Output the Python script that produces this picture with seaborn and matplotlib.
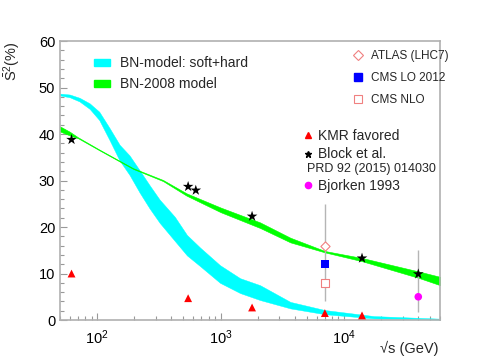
"""Survival probability S^2 vs sqrt(s): BN model bands with data points."""
import matplotlib

matplotlib.use("Agg")
import matplotlib.pyplot as plt
import numpy as np
import seaborn as sns
from matplotlib.lines import Line2D
from matplotlib.patches import Patch
from matplotlib.ticker import (LogFormatterMathtext, LogLocator,
                               MultipleLocator, NullFormatter)

# BN-model: soft+hard band, upper and lower edges
CYAN_E = [50, 60, 72, 87, 104, 126, 152, 183, 221, 266, 321, 426, 534, 682,
          990, 1440, 2090, 3680, 7000, 17500, 60000]
CYAN_HI = [48.7, 48.5, 47.8, 46.6, 44.8, 41.3, 37.7, 35.4, 32.2, 29.0, 25.9,
           22.2, 18.3, 15.6, 11.8, 9.0, 7.5, 3.9, 2.15, 0.85, 0.3]
CYAN_LO = [48.3, 47.9, 47.0, 45.4, 43.0, 38.7, 34.3, 31.2, 27.4, 24.0, 20.9,
           17.0, 13.9, 11.6, 8.0, 5.8, 4.3, 2.5, 1.25, 0.35, 0.1]

# BN-2008 model band
GREEN_E = [50, 60, 70, 104, 195, 342, 530, 1000, 2090, 3680, 7000, 14000, 41000, 60000]
GREEN_HI = [41.65, 40.5, 39.3, 36.68, 32.68, 30.12, 27.25, 24.2, 21.0, 17.7, 14.85, 13.35, 10.4, 9.3]
GREEN_LO = [40.55, 39.7, 39.1, 36.52, 32.52, 29.88, 26.75, 23.2, 19.8, 16.7, 14.55, 12.65, 9.0, 7.5]

# points
KMR_E = [62, 546, 1800, 7000, 14000]
KMR_S = [10.0, 4.7, 2.7, 1.5, 1.0]
BLOCK_E = [62, 546, 630, 1800, 14000, 40000]
BLOCK_S = [38.8, 28.7, 27.9, 22.3, 13.3, 9.9]
ATLAS_E, ATLAS_S = [7000], [16.0]
CMS_LO_E, CMS_LO_S = [7000], [12.0]
CMS_NLO_E, CMS_NLO_S = [7000], [8.0]
BJ_E, BJ_S = [40000], [5.0]
ERR_E = [7000, 40000]
ERR_LO = [4.0, 1.7]
ERR_HI = [24.9, 15.0]

sns.set_theme(style="ticks")
plt.rcParams["font.family"] = ["Liberation Sans", "DejaVu Sans"]
plt.rcParams["mathtext.fontset"] = "custom"
plt.rcParams["mathtext.rm"] = "Liberation Sans"
plt.rcParams["mathtext.it"] = "Liberation Sans:italic"

fig = plt.figure(figsize=(4.8, 3.6), dpi=100)
ax = fig.add_axes([0.125, 0.111, 0.7917, 0.775])
ax.set_xscale("log")

# bands
ax.fill_between(CYAN_E, CYAN_LO, CYAN_HI, color="#00ffff", lw=0.3, zorder=2)
ax.fill_between(GREEN_E, GREEN_LO, GREEN_HI, color="#00ff00", lw=0.4, zorder=2)

# error bars
ax.vlines(ERR_E, ERR_LO, ERR_HI, color="#b5b5b5", lw=1.0, zorder=3)

# points
sns.scatterplot(x=KMR_E, y=KMR_S, marker="^", color="#ff0000", s=32,
                edgecolor="none", ax=ax, zorder=4)
sns.scatterplot(x=BLOCK_E, y=BLOCK_S, marker="*", color="black", s=65,
                edgecolor="none", ax=ax, zorder=4)
sns.scatterplot(x=CMS_LO_E, y=CMS_LO_S, marker="s", color="#0000ff", s=30,
                edgecolor="none", ax=ax, zorder=4)
sns.scatterplot(x=BJ_E, y=BJ_S, marker="o", color="#ff00ff", s=30,
                edgecolor="none", ax=ax, zorder=4)
ax.scatter(ATLAS_E, ATLAS_S, marker="D", s=22, facecolors="white",
           edgecolors="#f08080", linewidths=0.8, zorder=4)
ax.scatter(CMS_NLO_E, CMS_NLO_S, marker="s", s=28, facecolors="white",
           edgecolors="#f08080", linewidths=0.8, zorder=4)

ax.set_xlim(50, 60000)
ax.set_ylim(0, 60)
ax.yaxis.set_major_locator(MultipleLocator(10))
ax.yaxis.set_minor_locator(MultipleLocator(2))
ax.xaxis.set_major_locator(LogLocator(base=10))
ax.xaxis.set_major_formatter(LogFormatterMathtext())
ax.xaxis.set_minor_locator(LogLocator(base=10, subs=np.arange(2, 10)))
ax.xaxis.set_minor_formatter(NullFormatter())

for side in ["left", "bottom", "top", "right"]:
    ax.spines[side].set_color("#b0b0b0")
    ax.spines[side].set_linewidth(1.2)
ax.tick_params(which="both", direction="in", colors="#999999",
               labelcolor="black", labelsize=10.5, top=False, right=False)
ax.tick_params(which="major", length=5, width=0.8)
ax.tick_params(which="minor", length=3, width=0.8)
ax.tick_params(axis="x", pad=6)

ax.set_xlabel("√s (GeV)", fontsize=10.5, loc="right")
ax.xaxis.set_label_coords(0.995, -0.075)
ax.set_ylabel(r"$\bar{\mathrm{S}}^{2}$(%)", fontsize=10.5, loc="top")
ax.yaxis.set_label_coords(-0.097, 1.0)

# legends
leg1 = ax.legend(
    handles=[Patch(color="#00ffff", label="BN-model: soft+hard"),
             Patch(color="#00ff00", label="BN-2008 model")],
    loc="upper left", bbox_to_anchor=(0.09, 0.945), frameon=False,
    fontsize=10, borderpad=0, borderaxespad=0, handlelength=1.13,
    handleheight=0.33, handletextpad=0.72, labelspacing=0.5)
ax.add_artist(leg1)

leg2 = ax.legend(
    handles=[Line2D([], [], ls="none", marker="D", ms=5, mfc="white",
                    mec="#f08080", mew=0.8, label="ATLAS (LHC7)"),
             Line2D([], [], ls="none", marker="s", ms=5.5, color="#0000ff",
                    label="CMS LO 2012"),
             Line2D([], [], ls="none", marker="s", ms=5.5, mfc="white",
                    mec="#f08080", mew=0.8, label="CMS NLO")],
    loc="upper left", bbox_to_anchor=(0.769, 0.968), frameon=False,
    fontsize=8.5, borderpad=0, borderaxespad=0, handlelength=1.0,
    handletextpad=0.6, labelspacing=0.86)
ax.add_artist(leg2)

leg3 = ax.legend(
    handles=[Line2D([], [], ls="none", marker="^", ms=4, color="#ff0000",
                    label="KMR favored"),
             Line2D([], [], ls="none", marker="*", ms=5, color="black",
                    label="Block et al.")],
    loc="upper left", bbox_to_anchor=(0.6336, 0.684), frameon=False,
    fontsize=10, borderpad=0, borderaxespad=0, handlelength=1.0,
    handletextpad=0.25, labelspacing=0.3)
ax.add_artist(leg3)

ax.text(0.6505, 0.541, "PRD 92 (2015) 014030", transform=ax.transAxes,
        fontsize=9, va="center", ha="left")

ax.legend(
    handles=[Line2D([], [], ls="none", marker="o", ms=4.5, color="#ff00ff",
                    label="Bjorken 1993")],
    loc="upper left", bbox_to_anchor=(0.6336, 0.506), frameon=False,
    fontsize=10, borderpad=0, borderaxespad=0, handlelength=1.0,
    handletextpad=0.25)

fig.savefig("out.png", dpi=100)
